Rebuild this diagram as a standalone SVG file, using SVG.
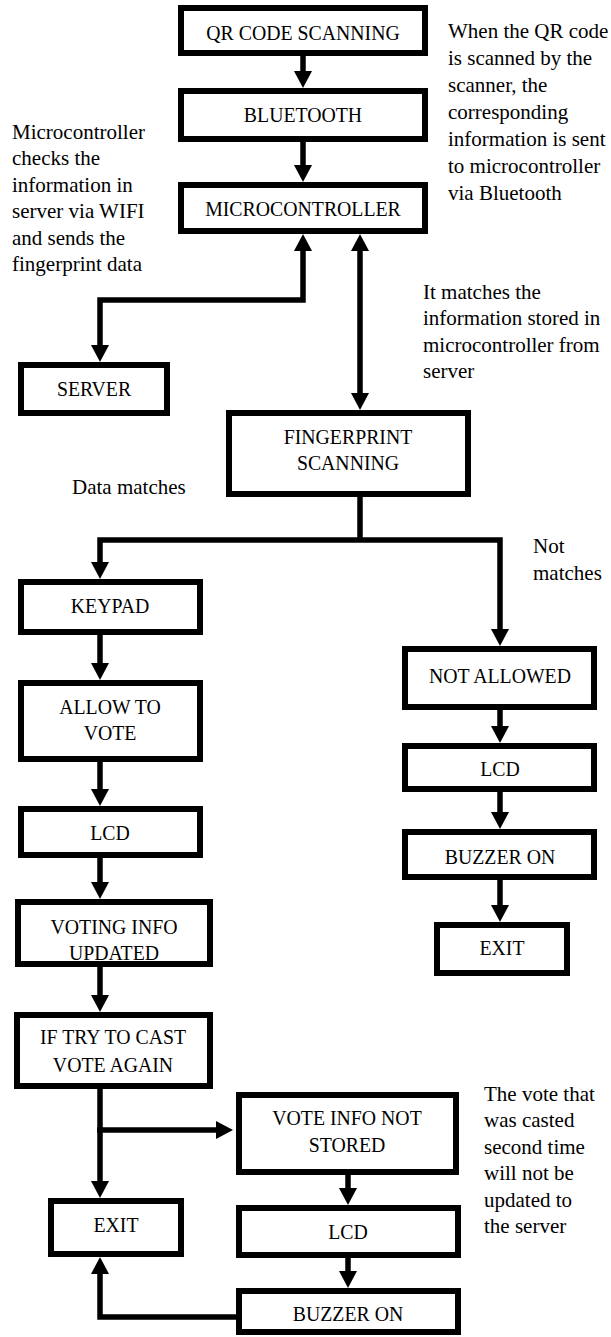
<svg xmlns="http://www.w3.org/2000/svg" width="611" height="1337" viewBox="0 0 611 1337">
  <style>
    .box rect { fill: #fff; stroke: #000; stroke-width: 6; }
    .box text { font-family: "Liberation Serif", "Times New Roman", serif; font-size: 22px; text-anchor: middle; fill: #000; }
    .note { font-family: "Liberation Serif", "Times New Roman", serif; font-size: 21px; fill: #000; }
    .wire { fill: none; stroke: #000; stroke-width: 5.5; stroke-linejoin: miter; }
    .arrow { marker-end: url(#head); }
    .both { marker-start: url(#head); marker-end: url(#head); }
  </style>
  <defs>
    <marker id="head" viewBox="0 0 17 18" refX="7" refY="9" markerWidth="17" markerHeight="18" markerUnits="userSpaceOnUse" orient="auto-start-reverse">
      <path d="M0,0 L17,9 L0,18 Z" fill="#000"/>
    </marker>
  </defs>
  <rect width="611" height="1337" fill="#fff"/>

  <!-- connectors -->
  <g id="connectors">
    <path class="wire arrow" d="M303,56 V78"/>
    <path class="wire arrow" d="M303,142 V172"/>
    <path class="wire both" d="M303,244 V300 H100 V352"/>
    <path class="wire both" d="M360,244 V400"/>
    <path class="wire" d="M360,497 V541"/>
    <path class="wire both" d="M100,569 V540 H500 V636"/>
    <path class="wire arrow" d="M100,635 V670"/>
    <path class="wire arrow" d="M100,762 V796"/>
    <path class="wire arrow" d="M100,858 V889"/>
    <path class="wire arrow" d="M100,967 V1002"/>
    <path class="wire arrow" d="M100,1089 V1188"/>
    <path class="wire arrow" d="M97,1130 H223"/>
    <path class="wire arrow" d="M348,1175 V1195"/>
    <path class="wire arrow" d="M348,1258 V1278"/>
    <path class="wire arrow" d="M236,1317 H100 V1267"/>
    <path class="wire arrow" d="M500,710 V733"/>
    <path class="wire arrow" d="M500,792 V819"/>
    <path class="wire arrow" d="M500,880 V912"/>
  </g>

  <!-- nodes: box text is drawn slightly narrowed -->
  <g id="qr" class="box">
    <rect x="181" y="8" width="244" height="45"/>
    <text transform="translate(303 40) scale(0.9 1)">QR CODE SCANNING</text>
  </g>
  <g id="bluetooth" class="box">
    <rect x="181" y="91" width="244" height="48"/>
    <text transform="translate(303 122) scale(0.9 1)">BLUETOOTH</text>
  </g>
  <g id="microcontroller" class="box">
    <rect x="181" y="185" width="244" height="46"/>
    <text transform="translate(303 216) scale(0.9 1)">MICROCONTROLLER</text>
  </g>
  <g id="server" class="box">
    <rect x="21" y="365" width="146" height="48"/>
    <text transform="translate(94 396) scale(0.9 1)">SERVER</text>
  </g>
  <g id="fingerprint" class="box">
    <rect x="229" y="413" width="239" height="81"/>
    <text transform="translate(348 444) scale(0.9 1)">FINGERPRINT</text>
    <text transform="translate(348 470) scale(0.9 1)">SCANNING</text>
  </g>
  <g id="keypad" class="box">
    <rect x="21" y="582" width="179" height="50"/>
    <text transform="translate(110 613) scale(0.9 1)">KEYPAD</text>
  </g>
  <g id="allow-vote" class="box">
    <rect x="21" y="683" width="179" height="76"/>
    <text transform="translate(110 714) scale(0.9 1)">ALLOW TO</text>
    <text transform="translate(110 740) scale(0.9 1)">VOTE</text>
  </g>
  <g id="lcd-left" class="box">
    <rect x="21" y="809" width="179" height="46"/>
    <text transform="translate(110 840) scale(0.9 1)">LCD</text>
  </g>
  <g id="voting-info" class="box">
    <rect x="18" y="902" width="192" height="62"/>
    <text transform="translate(114 934) scale(0.9 1)">VOTING INFO</text>
    <text transform="translate(114 960) scale(0.9 1)">UPDATED</text>
  </g>
  <g id="try-again" class="box">
    <rect x="17" y="1015" width="193" height="71"/>
    <text transform="translate(113 1044) scale(0.9 1)">IF TRY TO CAST</text>
    <text transform="translate(113 1072) scale(0.9 1)">VOTE AGAIN</text>
  </g>
  <g id="exit-left" class="box">
    <rect x="51" y="1201" width="130" height="53"/>
    <text transform="translate(116 1232) scale(0.9 1)">EXIT</text>
  </g>
  <g id="not-stored" class="box">
    <rect x="239" y="1095" width="217" height="77"/>
    <text transform="translate(347 1125) scale(0.9 1)">VOTE INFO NOT</text>
    <text transform="translate(347 1152) scale(0.9 1)">STORED</text>
  </g>
  <g id="lcd-bottom" class="box">
    <rect x="239" y="1208" width="219" height="47"/>
    <text transform="translate(348 1239) scale(0.9 1)">LCD</text>
  </g>
  <g id="buzzer-bottom" class="box">
    <rect x="239" y="1291" width="219" height="41"/>
    <text transform="translate(348 1321) scale(0.9 1)">BUZZER ON</text>
  </g>
  <g id="not-allowed" class="box">
    <rect x="405" y="649" width="189" height="58"/>
    <text transform="translate(500 683) scale(0.9 1)">NOT ALLOWED</text>
  </g>
  <g id="lcd-right" class="box">
    <rect x="405" y="746" width="189" height="43"/>
    <text transform="translate(500 776) scale(0.9 1)">LCD</text>
  </g>
  <g id="buzzer-right" class="box">
    <rect x="405" y="832" width="189" height="45"/>
    <text transform="translate(500 864) scale(0.9 1)">BUZZER ON</text>
  </g>
  <g id="exit-right" class="box">
    <rect x="437" y="925" width="130" height="48"/>
    <text transform="translate(502 955) scale(0.9 1)">EXIT</text>
  </g>

  <!-- annotations -->
  <g id="note-bluetooth" class="note">
    <text x="448" y="38">When the QR code</text>
    <text x="448" y="65">is scanned by the</text>
    <text x="448" y="92">scanner, the</text>
    <text x="448" y="119">corresponding</text>
    <text x="448" y="146">information is sent</text>
    <text x="448" y="173">to microcontroller</text>
    <text x="448" y="200">via Bluetooth</text>
  </g>
  <g id="note-wifi" class="note">
    <text x="12" y="139">Microcontroller</text>
    <text x="12" y="165">checks the</text>
    <text x="12" y="192">information in</text>
    <text x="12" y="218">server via WIFI</text>
    <text x="12" y="245">and sends the</text>
    <text x="12" y="271">fingerprint data</text>
  </g>
  <g id="note-match" class="note">
    <text x="423" y="299">It matches the</text>
    <text x="423" y="325">information stored in</text>
    <text x="423" y="352">microcontroller from</text>
    <text x="423" y="378">server</text>
  </g>
  <text class="note" x="72" y="494">Data matches</text>
  <text class="note" x="533" y="553">Not</text>
  <text class="note" x="533" y="580">matches</text>
  <g id="note-second-vote" class="note">
    <text x="484" y="1101">The vote that</text>
    <text x="484" y="1127">was casted</text>
    <text x="484" y="1154">second time</text>
    <text x="484" y="1180">will not be</text>
    <text x="484" y="1207">updated to</text>
    <text x="484" y="1233">the server</text>
  </g>
</svg>
